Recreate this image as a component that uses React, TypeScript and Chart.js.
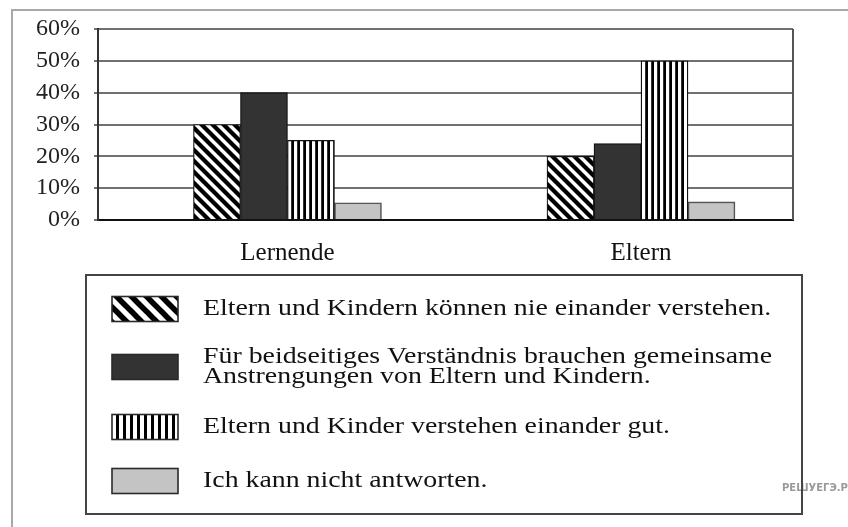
import React, { useEffect, useRef } from 'react';
import { Chart, registerables } from 'chart.js';

Chart.register(...registerables);

// ---------- data ----------
const categories = ['Lernende', 'Eltern'];
const seriesLabels: string[][] = [
  ['Eltern und Kindern können nie einander verstehen.'],
  ['Für beidseitiges Verständnis brauchen gemeinsame', 'Anstrengungen von Eltern und Kindern.'],
  ['Eltern und Kinder verstehen einander gut.'],
  ['Ich kann nicht antworten.'],
];
const neverUnderstand = [30, 20];
const jointEfforts = [40, 24];
const understandWell = [25, 50];
const cannotAnswer = [5.4, 5.7];
const yMin = 0;
const yMax = 60;
const yStep = 10;
const watermark = 'РЕШУЕГЭ.РФ';

const SERIF = "'Liberation Serif', 'Times New Roman', serif";

function makeDiag(size: number, width: number): CanvasPattern {
  const c = document.createElement('canvas');
  c.width = size;
  c.height = size;
  const g = c.getContext('2d')!;
  g.fillStyle = '#ffffff';
  g.fillRect(0, 0, size, size);
  g.strokeStyle = '#000000';
  g.lineWidth = width;
  for (const o of [-size, 0, size]) {
    g.beginPath();
    g.moveTo(o - size, -size);
    g.lineTo(o + 2 * size, 2 * size);
    g.stroke();
  }
  return g.createPattern(c, 'repeat')!;
}

function makeVert(pitch: number, black: number): CanvasPattern {
  const c = document.createElement('canvas');
  c.width = pitch;
  c.height = 4;
  const g = c.getContext('2d')!;
  g.fillStyle = '#ffffff';
  g.fillRect(0, 0, pitch, 4);
  g.fillStyle = '#000000';
  g.fillRect(pitch - black, 0, black, 4);
  return g.createPattern(c, 'repeat')!;
}

export default function App() {
  const ref = useRef<HTMLCanvasElement | null>(null);

  useEffect(() => {
    document.body.style.margin = '0';
    const canvas = ref.current!;
    const diag = makeDiag(11, 4.2);
    const vert = makeVert(6, 2.8);
    const diagLegend = makeDiag(15, 5.5);
    const vertLegend = makeVert(7, 3);
    const dark = '#333333';
    const light = '#c4c4c4';
    const legendFills: (string | CanvasPattern)[] = [diagLegend, dark, vertLegend, light];

    const toPts = (arr: number[]) => arr.map((y, i) => ({ x: i, y }));

    const decor = {
      id: 'decor',
      beforeDraw(chart: any) {
        const ctx = chart.ctx as CanvasRenderingContext2D;
        ctx.save();
        ctx.fillStyle = '#ffffff';
        ctx.fillRect(0, 0, chart.width, chart.height);
        // outer frame (top and left edges visible)
        ctx.strokeStyle = '#a8a8a8';
        ctx.lineWidth = 2;
        ctx.beginPath();
        ctx.moveTo(chart.width, 10);
        ctx.lineTo(12, 10);
        ctx.lineTo(12, chart.height);
        ctx.stroke();
        ctx.restore();
      },
      afterDraw(chart: any) {
        const ctx = chart.ctx as CanvasRenderingContext2D;
        const a = chart.chartArea;
        ctx.save();
        // right edge of plot area
        ctx.strokeStyle = '#555555';
        ctx.lineWidth = 2;
        ctx.beginPath();
        ctx.moveTo(a.right, a.top);
        ctx.lineTo(a.right, a.bottom);
        ctx.stroke();

        // watermark
        ctx.fillStyle = '#9a9a9a';
        ctx.font = "bold 10px 'DejaVu Sans', sans-serif";
        ctx.textBaseline = 'middle';
        ctx.textAlign = 'left';
        ctx.fillText(watermark, 782, 488);

        // legend box
        const bx = 86, by = 275, bw = 716, bh = 239;
        ctx.strokeStyle = '#444444';
        ctx.lineWidth = 2;
        ctx.strokeRect(bx, by, bw, bh);

        const rowY = [309, 367, 427, 481];
        const lineH = 20;
        const swX = 112, swW = 66, swH = 25;
        const textX = 203;
        ctx.font = `24px ${SERIF}`;
        seriesLabels.forEach((lines, i) => {
          const cy = rowY[i];
          ctx.fillStyle = legendFills[i] as any;
          ctx.fillRect(swX, cy - swH / 2, swW, swH);
          ctx.strokeStyle = '#2a2a2a';
          ctx.lineWidth = 1.6;
          ctx.strokeRect(swX, cy - swH / 2, swW, swH);
          ctx.fillStyle = '#111111';
          const n = lines.length;
          lines.forEach((t, j) => {
            const ty = n === 1 ? cy : cy - 10 + j * lineH;
            ctx.save();
            ctx.translate(textX, ty);
            ctx.scale(1.16, 1);
            ctx.fillText(t, 0, 0);
            ctx.restore();
          });
        });
        ctx.restore();
      },
    };

    const common = { barThickness: 47, borderSkipped: 'start' as const };

    const chart = new Chart(canvas, {
      type: 'bar',
      data: {
        datasets: [
          { label: seriesLabels[0].join(' '), data: toPts(neverUnderstand), backgroundColor: diag, borderColor: '#111111', borderWidth: 1.2, ...common },
          { label: seriesLabels[1].join(' '), data: toPts(jointEfforts), backgroundColor: dark, borderColor: '#111111', borderWidth: 1.2, ...common },
          { label: seriesLabels[2].join(' '), data: toPts(understandWell), backgroundColor: vert, borderColor: '#111111', borderWidth: 1.2, ...common },
          { label: seriesLabels[3].join(' '), data: toPts(cannotAnswer), backgroundColor: light, borderColor: '#555555', borderWidth: 1.6, ...common },
        ],
      } as any,
      options: {
        animation: false,
        responsive: true,
        maintainAspectRatio: false,
        layout: { padding: { left: 0, right: 55, top: 29, bottom: 0 } },
        plugins: {
          legend: { display: false },
          tooltip: { enabled: false },
        },
        scales: {
          x: {
            type: 'linear',
            offset: false,
            min: -0.536,
            max: 1.43,
            grid: { display: false, offset: false },
            border: { display: true, color: '#111111', width: 2 },
            afterBuildTicks: (scale: any) => {
              scale.ticks = categories.map((_, i) => ({ value: i }));
            },
            afterFit: (scale: any) => {
              scale.height = 307;
            },
            ticks: {
              autoSkip: false,
              maxRotation: 0,
              padding: 10,
              color: '#111111',
              font: { family: SERIF, size: 25 },
              callback: (_v: any, i: number) => categories[i],
            },
          },
          y: {
            min: yMin,
            max: yMax,
            grid: { color: '#707070', lineWidth: 2, tickLength: 4 },
            border: { display: true, color: '#333333', width: 2 },
            afterFit: (scale: any) => {
              scale.width = 98;
            },
            ticks: {
              stepSize: yStep,
              padding: 14,
              color: '#222222',
              font: { family: SERIF, size: 24 },
              callback: (v: any) => `${v}%`,
            },
          },
        },
      } as any,
      plugins: [decor],
    });
    return () => chart.destroy();
  }, []);

  return (
    <div style={{ width: 848, height: 527, position: 'relative' }}>
      <canvas ref={ref} />
    </div>
  );
}
